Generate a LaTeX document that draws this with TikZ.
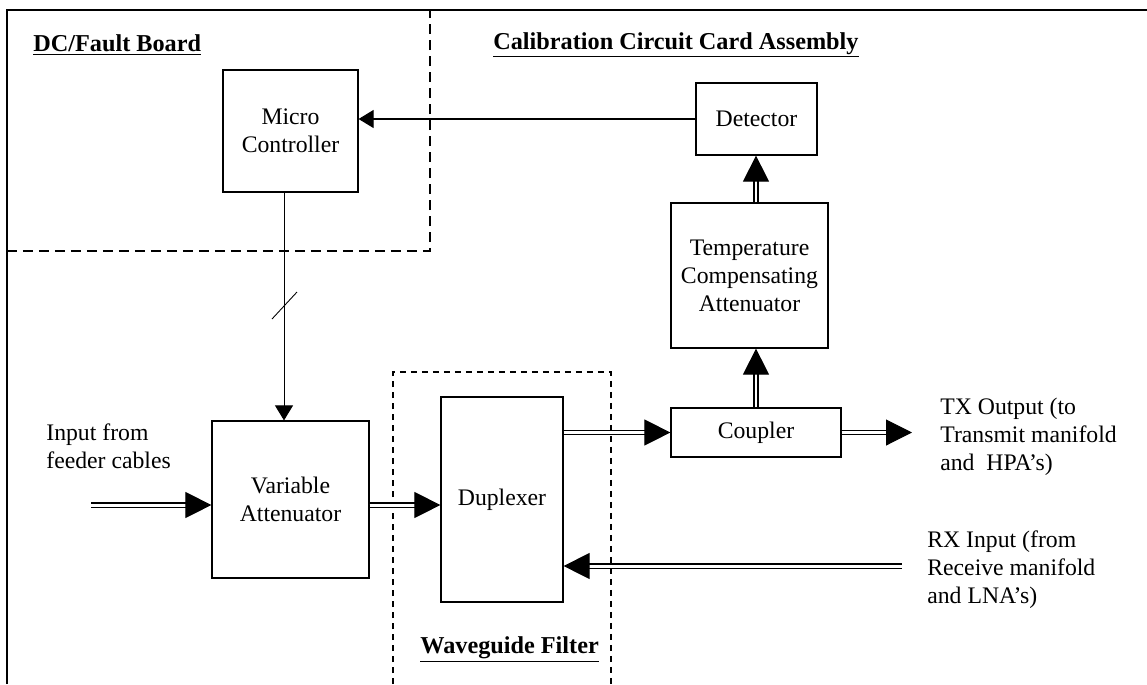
\documentclass[tikz,border=0pt]{standalone}
\usepackage{fontspec}
\setmainfont{Liberation Serif}
\usepackage{tikz}
\usetikzlibrary{positioning,arrows.meta,calc}

\begin{document}
\begin{tikzpicture}[
            x=0.02cm, y=-0.02cm,
            font=\fontsize{13.5pt}{16pt}\selectfont,
            % Style for the function blocks
            blkbox/.style={draw, line width=0.7pt, align=center, inner sep=0pt},
            % Style for the RF paths (double line, big head)
            dblarr/.style={double, double distance=1.7pt, line width=0.6pt,
                           -{Triangle[length=0.52cm, width=0.52cm]}},
            % Style for the thin control line
            sigarr/.style={line width=0.6pt, -{Triangle[length=0.3cm, width=0.36cm]}},
            % Style for the board borders
            brd/.style={line width=1.3pt, dash pattern=on 0.2cm off 0.12cm},
            % Style for the outside texts
            lbl/.style={anchor=west, align=left, inner sep=0pt},
            % Style for the underlined headings
            hdr/.style={anchor=west, inner sep=0pt, font=\fontsize{13.8pt}{16pt}\selectfont\bfseries}
        ]
            \useasboundingbox (0,0) rectangle (1147,684);

            % --- 1. FRAME AND BOARDS ---
            \draw[line width=1.1pt] (7,684) -- (7,10) -- (1147,10);
            \draw[brd] (7,251) -- (430,251) -- (430,10);
            \draw[line width=0.8pt, dash pattern=on 0.13cm off 0.09cm] (393,684) -- (393,372) -- (611,372) -- (611,684);

            \node[hdr] (dcf) at (33,45) {\underline{DC/Fault Board}};
            \node[hdr] (cca) at (493,45) {\underline{Calibration Circuit Card Assembly}};
            \node[hdr] (wgf) at (420,650) {\underline{Waveguide Filter}};

            % --- 2. BLOCKS ---
            \node[blkbox, minimum width=2.7cm, minimum height=2.44cm] (mc) at (290.5,131) {Micro\\Controller};
            \node[blkbox, minimum width=2.42cm, minimum height=1.44cm] (det) at (756.5,119) {Detector};
            \node[blkbox, minimum width=3.14cm, minimum height=2.9cm] (tca) at (749.5,275.5) {Temperature\\Compensating\\Attenuator};
            \node[blkbox, minimum width=3.4cm, minimum height=0.98cm] (cpl) at (756,432.5) {Coupler};
            \node[blkbox, minimum width=3.14cm, minimum height=3.14cm] (varatt) at (290.5,499.5) {Variable\\Attenuator};
            \node[blkbox, minimum width=2.44cm, minimum height=4.1cm] (dup) at (502,499.5) {Duplexer};

            % --- 3. OUTSIDE LABELS ---
            \node[lbl] (inlbl) at (46,446) {Input from\\feeder cables};
            \node[lbl] (txlbl) at (940,437) {TX Output (to\\Transmit manifold\\and~ HPA's)};
            \node[lbl] (rxlbl) at (927,570) {RX Input (from\\Receive manifold\\and LNA's)};

            \coordinate (rfin) at (91,505);
            \coordinate (txend) at (912,432.5);
            \coordinate (rxend) at (902,566);

            % --- 4. CONNECTIONS ---
            \draw[sigarr] (det.west) -- (det.west -| mc.east);
            \draw[sigarr, line width=0.5pt] ([xshift=-0.13cm]mc.south) -- ([xshift=-0.13cm]varatt.north);
            \draw[line width=0.5pt] (272,319) -- (297,292); % bus slash

            \draw[dblarr] (rfin) -- (rfin -| varatt.west);
            \draw[dblarr] ([yshift=-0.11cm]varatt.east) -- ([yshift=-0.11cm]varatt.east -| dup.west);
            \draw[dblarr] (dup.east |- cpl.west) -- (cpl.west);
            \draw[dblarr] (cpl.east) -- (txend);
            \draw[dblarr] (cpl.north) -- (cpl.north |- tca.south);
            \draw[dblarr] (cpl.north |- tca.north) -- (cpl.north |- det.south);
            \draw[dblarr] (rxend) -- (rxend -| dup.east);

        \end{tikzpicture}
\end{document}
